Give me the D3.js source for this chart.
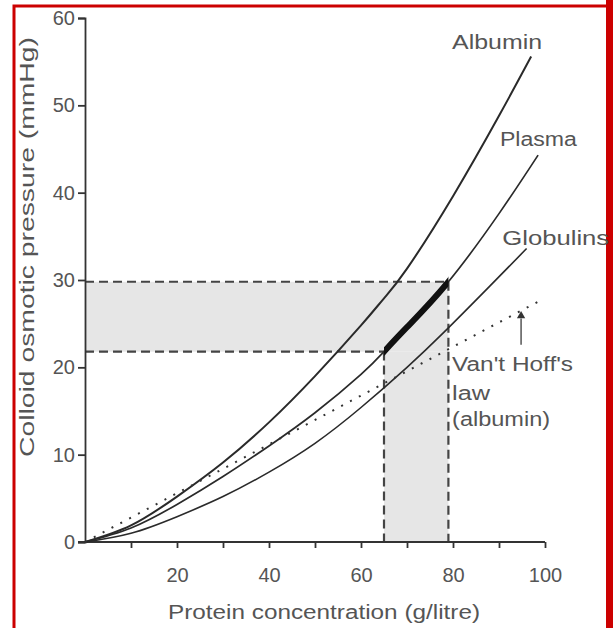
<!DOCTYPE html>
<html lang="en">
<head>
    <meta charset="UTF-8">
    <title>Colloid osmotic pressure</title>
    <script src="https://d3js.org/d3.v7.min.js"></script>
    <style>
        body { margin: 0; background: #fff; }
        svg { display: block; font-family: "Liberation Sans", Arial, sans-serif; }
    </style>
</head>
<body>
<svg width="616" height="628"></svg>

<script>
    // values: [protein g/litre, pressure mmHg]
    const albumin = [[0,0],[10,1.9],[20,5.2],[30,9.1],[40,13.7],[50,19.0],[60,24.8],[65,27.9],[70,31.3],[80,39.6],[90,48.8],[97,55.6]];
    const plasma = [[0,0],[10,1.6],[20,4.3],[30,7.5],[40,11.0],[50,14.8],[60,19.2],[65,21.8],[70,24.6],[79,29.8],[90,37.6],[98.5,44.3]];
    const globulins = [[0,0],[10,1.0],[20,2.9],[30,5.2],[40,8.0],[50,11.3],[60,15.4],[70,20.0],[78,24.0],[88,29.3],[96,33.6]];
    const vantHoff = [[0,0],[99.5,27.8]];

    // normal plasma range
    const rangeX = [65, 79];
    const rangeY = [21.8, 29.8];

    const xTicks = [10,20,30,40,50,60,70,80,90,100];
    const yTicks = [0,10,20,30,40,50,60];

    const labels = [
        {text: "Albumin", x: 79.8, y: 56.4, w: 90},
        {text: "Plasma", x: 90.2, y: 45.3, w: 77},
        {text: "Globulins", x: 90.7, y: 34.0, w: 107},
        {text: "Van't Hoff's", x: 79.8, y: 19.6, w: 121},
        {text: "law", x: 79.8, y: 16.3, w: 38},
        {text: "(albumin)", x: 79.8, y: 13.3, w: 98}
    ];

    let svg = d3.select("svg");

    const x = d3.scaleLinear().domain([0, 100]).range([85, 545]);
    const y = d3.scaleLinear().domain([0, 60]).range([542, 18]);

    // red frame of the scan
    svg.append("rect").attr("x", 14).attr("y", 6).attr("width", 594).attr("height", 640)
        .attr("fill", "none").attr("stroke", "#cc0000").attr("stroke-width", 3);
    svg.append("rect").attr("x", 606).attr("y", 0).attr("width", 7).attr("height", 628)
        .attr("fill", "#cc0000");

    // shaded bands
    svg.append("rect")
        .attr("x", x(0)).attr("y", y(rangeY[1]))
        .attr("width", x(rangeX[1]) - x(0)).attr("height", y(rangeY[0]) - y(rangeY[1]))
        .attr("fill", "#e6e6e6");
    svg.append("rect")
        .attr("x", x(rangeX[0])).attr("y", y(rangeY[0]))
        .attr("width", x(rangeX[1]) - x(rangeX[0])).attr("height", y(0) - y(rangeY[0]))
        .attr("fill", "#e6e6e6");

    // dashed guides
    const guides = [
        [[0, rangeY[1]], [rangeX[1], rangeY[1]]],
        [[0, rangeY[0]], [rangeX[0], rangeY[0]]],
        [[rangeX[0], rangeY[0]], [rangeX[0], 0]],
        [[rangeX[1], rangeY[1]], [rangeX[1], 0]]
    ];
    svg.append("g").selectAll("line")
        .data(guides)
        .join("line")
        .attr("x1", d => x(d[0][0])).attr("y1", d => y(d[0][1]))
        .attr("x2", d => x(d[1][0])).attr("y2", d => y(d[1][1]))
        .attr("stroke", "#444")
        .attr("stroke-width", 2.2)
        .attr("stroke-dasharray", "9,5");

    // axes
    const yAxis = svg.append("g")
        .attr("transform", "translate(" + x(0) + ",0)")
        .call(d3.axisLeft(y).tickValues(yTicks).tickSize(7).tickPadding(3));
    const xAxis = svg.append("g")
        .attr("transform", "translate(0," + y(0) + ")")
        .call(d3.axisBottom(x).tickValues(xTicks).tickSize(6).tickPadding(20)
            .tickFormat(d => d % 20 === 0 ? d : ""));
    [xAxis, yAxis].forEach(function (a) {
        a.select(".domain").attr("stroke", "#333").attr("stroke-width", 1.8);
        a.selectAll(".tick line").attr("stroke", "#333").attr("stroke-width", 1.8);
        a.selectAll("text").attr("font-size", 20).attr("fill", "#555")
            .attr("font-family", "Liberation Sans, Arial, sans-serif");
    });
    xAxis.select(".domain").attr("d", "M" + (x(0) - 7) + ",0H" + x(100));

    // curves
    const line = d3.line().x(d => x(d[0])).y(d => y(d[1])).curve(d3.curveNatural);
    svg.append("path").datum(albumin).attr("d", line)
        .attr("fill", "none").attr("stroke", "#2a2a2a").attr("stroke-width", 2);
    svg.append("path").datum(plasma).attr("d", line)
        .attr("fill", "none").attr("stroke", "#2a2a2a").attr("stroke-width", 1.7);
    svg.append("path").datum(globulins).attr("d", line)
        .attr("fill", "none").attr("stroke", "#2a2a2a").attr("stroke-width", 1.6);
    svg.append("path").datum(vantHoff).attr("d", d3.line().x(d => x(d[0])).y(d => y(d[1])))
        .attr("fill", "none").attr("stroke", "#333").attr("stroke-width", 2)
        .attr("stroke-dasharray", "2,8");

    // thick part of plasma curve in the normal range
    svg.append("clipPath").attr("id", "normal")
        .append("rect")
        .attr("x", x(rangeX[0])).attr("y", 0)
        .attr("width", x(rangeX[1]) - x(rangeX[0])).attr("height", y(0));
    svg.append("path").datum(plasma).attr("d", line)
        .attr("clip-path", "url(#normal)")
        .attr("fill", "none").attr("stroke", "#111").attr("stroke-width", 6);

    // arrow to Van't Hoff line
    svg.append("line")
        .attr("x1", x(94.8)).attr("y1", y(22.6))
        .attr("x2", x(94.8)).attr("y2", y(25.6))
        .attr("stroke", "#555").attr("stroke-width", 1.5);
    svg.append("path")
        .attr("d", d3.symbol().type(d3.symbolTriangle).size(30))
        .attr("transform", "translate(" + x(94.8) + "," + y(25.9) + ")")
        .attr("fill", "#333");

    // curve labels
    svg.append("g").selectAll("text")
        .data(labels)
        .join("text")
        .attr("x", d => x(d.x)).attr("y", d => y(d.y))
        .attr("textLength", d => d.w)
        .attr("lengthAdjust", "spacingAndGlyphs")
        .attr("font-size", 20)
        .attr("fill", "#555")
        .text(d => d.text);

    // axis titles
    svg.append("text")
        .attr("x", 324).attr("y", 619)
        .attr("text-anchor", "middle")
        .attr("textLength", 312).attr("lengthAdjust", "spacingAndGlyphs")
        .attr("font-size", 20).attr("fill", "#555")
        .text("Protein concentration (g/litre)");
    svg.append("text")
        .attr("transform", "translate(34,247) rotate(-90)")
        .attr("text-anchor", "middle")
        .attr("textLength", 420).attr("lengthAdjust", "spacingAndGlyphs")
        .attr("font-size", 20).attr("fill", "#555")
        .text("Colloid osmotic pressure (mmHg)");
</script>
</body>
</html>
